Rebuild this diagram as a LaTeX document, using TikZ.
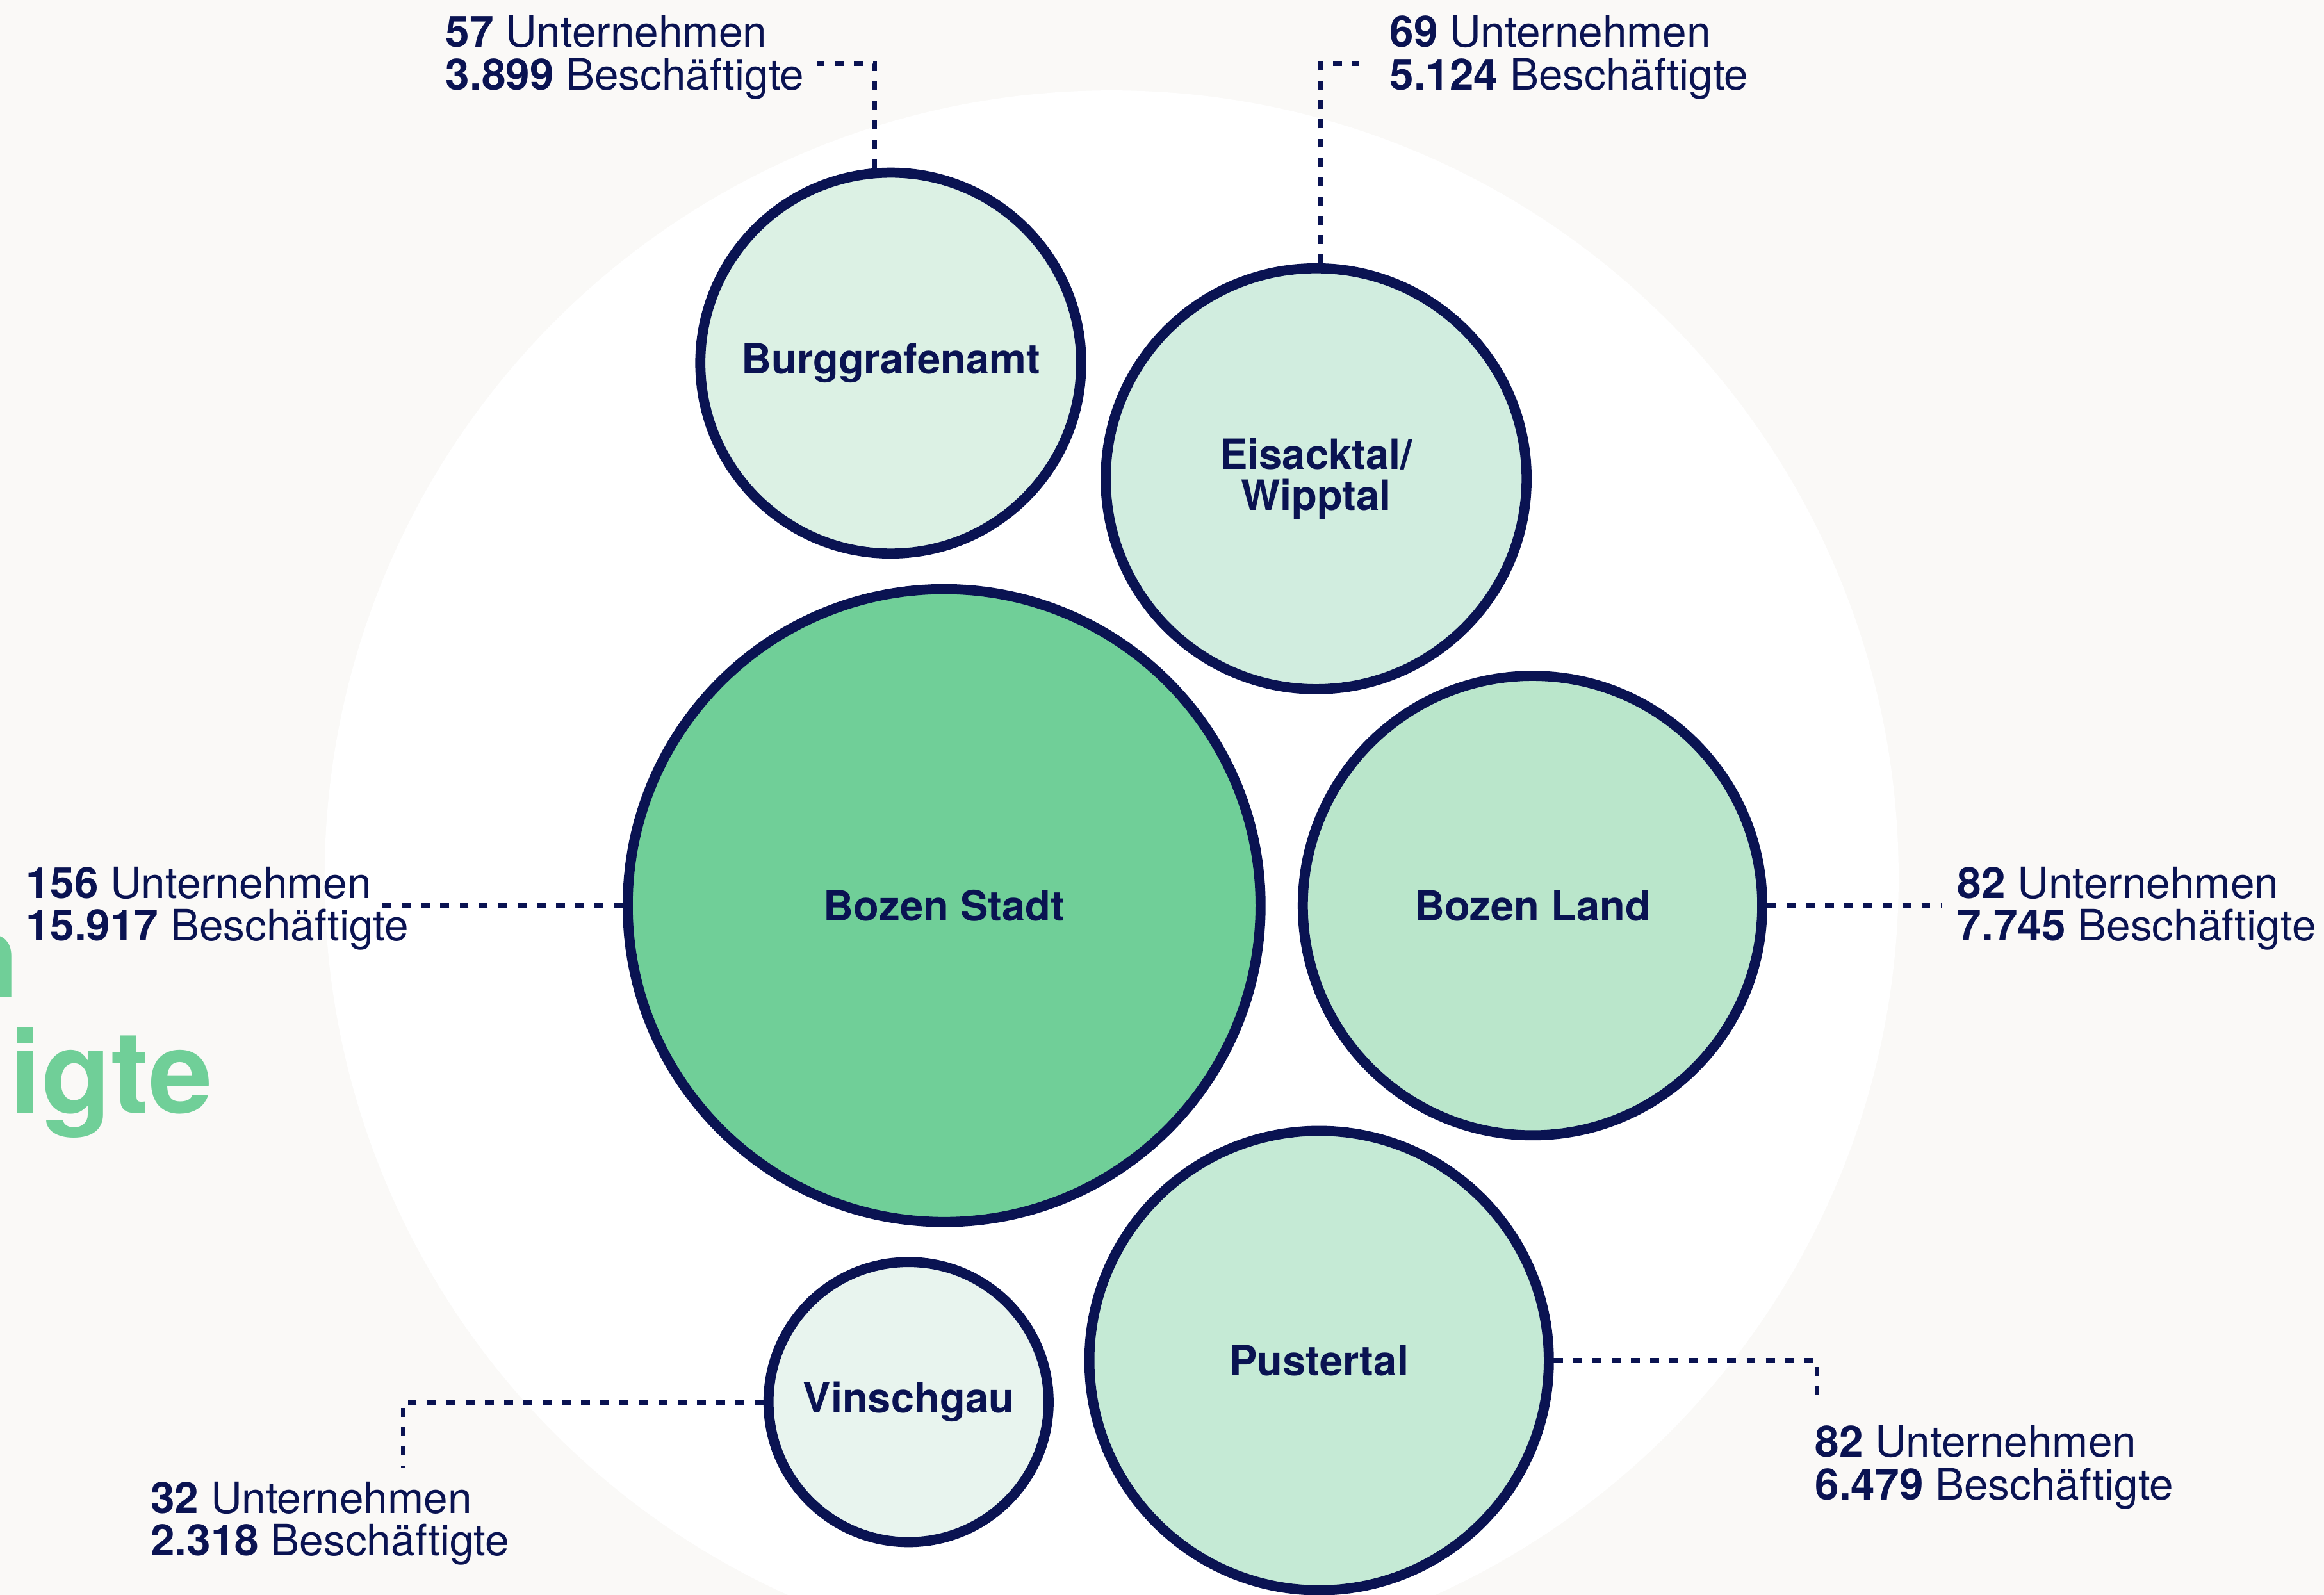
\documentclass[tikz,border=0pt]{standalone}
\usepackage{fontspec}
\setmainfont{TeX Gyre Heros}
\usepackage{tikz}
\usepackage{xcolor}

\definecolor{navy}{HTML}{0A1352}
\definecolor{paper}{HTML}{FAF9F7}
\definecolor{stadtgreen}{HTML}{70CF98}
\definecolor{landgreen}{HTML}{BAE6CB}
\definecolor{pustergreen}{HTML}{C5EAD5}
\definecolor{eisackgreen}{HTML}{D1EDDF}
\definecolor{burggreen}{HTML}{DCF1E4}
\definecolor{vinschgreen}{HTML}{E8F4EE}

\tikzset{
  region/.style={circle, draw=navy, line width=0.68mm, text=navy, inner sep=0pt,
    align=center, font=\fontsize{8}{7.9}\selectfont\bfseries},
  info/.style={anchor=north west, text=navy, inner sep=0pt, align=left,
    font=\fontsize{8.3}{8.2}\selectfont},
  leader/.style={draw=navy, line width=0.32mm, dash pattern=on 0.6mm off 0.7mm},
  headline/.style={anchor=base east, text=stadtgreen, inner sep=0pt,
    font=\fontsize{22}{22}\selectfont\bfseries}
}

\begin{document}
\begin{tikzpicture}[x=0.1mm, y=-0.1mm]
  \useasboundingbox (0,0) rectangle (1568,1076);
  \clip (0,0) rectangle (1568,1076);
  \fill[paper] (0,0) rectangle (1568,1076);
  \fill[white] (750,592) circle[radius=531];

  \node[headline] (headU) at (13.5,673) {n};
  \node[headline] (headB) at (144,751) {igte};

  \node[region, fill=burggreen, minimum size=25.7mm] (burg) at (601,245) {Burggrafenamt};
  \node[region, fill=eisackgreen, minimum size=28.4mm] (eisack) at (888,323) {Eisacktal/\\Wipptal};
  \node[region, fill=stadtgreen, minimum size=42.7mm] (stadt) at (637,611) {Bozen Stadt};
  \node[region, fill=landgreen, minimum size=31mm] (land) at (1034,611) {Bozen Land};
  \node[region, fill=pustergreen, minimum size=31mm] (puster) at (890,918) {Pustertal};
  \node[region, fill=vinschgreen, minimum size=18.9mm] (vinsch) at (613,946) {Vinschgau};

  \node[info] (burgtxt) at (300,10) {\textbf{57} Unternehmen\\\textbf{3.899} Beschäftigte};
  \node[info] (eisacktxt) at (937,10) {\textbf{69} Unternehmen\\\textbf{5.124} Beschäftigte};
  \node[info] (stadttxt) at (17,584) {\textbf{156} Unternehmen\\\textbf{15.917} Beschäftigte};
  \node[info] (landtxt) at (1320,584) {\textbf{82} Unternehmen\\\textbf{7.745} Beschäftigte};
  \node[info] (pustertxt) at (1224,961) {\textbf{82} Unternehmen\\\textbf{6.479} Beschäftigte};
  \node[info] (vinschtxt) at (101,999) {\textbf{32} Unternehmen\\\textbf{2.318} Beschäftigte};

  \coordinate (burgknee) at (590,43);
  \coordinate (eisackknee) at (891,43);
  \coordinate (stadtend) at (258,611);
  \coordinate (landend) at (1310,611);
  \coordinate (pusterknee) at (1226,918);
  \coordinate (pusterend) at (1226,946);
  \coordinate (vinschknee) at (272,946);
  \coordinate (vinschend) at (272,990);

  \draw[leader] (burgknee |- burg.north) -- (burgknee) -- ([xshift=0.8mm]burgtxt.east |- burgknee);
  \draw[leader] (eisackknee |- eisack.north) -- (eisackknee) -- ([xshift=-2mm]eisacktxt.west |- eisackknee);
  \draw[leader] (stadt.west) -- (stadtend);
  \draw[leader] (land.east) -- (landend);
  \draw[leader] (puster.east) -- (pusterknee) -- (pusterend);
  \draw[leader] (vinsch.west) -- (vinschknee) -- (vinschend);
\end{tikzpicture}
\end{document}
